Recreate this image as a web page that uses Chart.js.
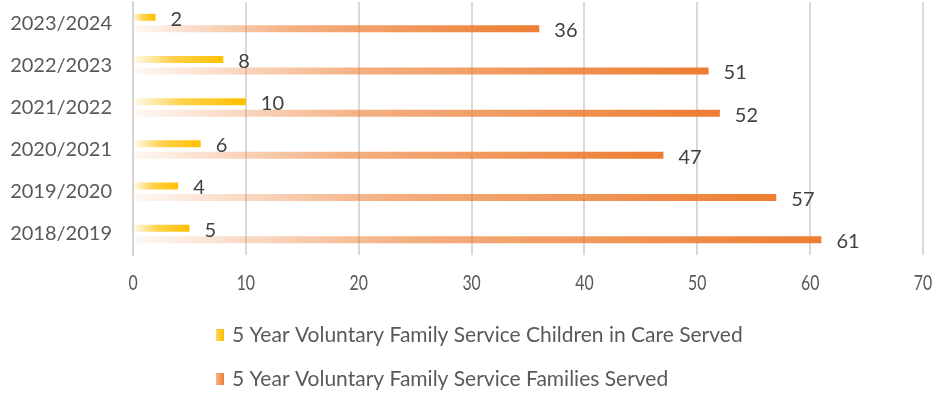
<!DOCTYPE html>
<html>
<head>
<meta charset="utf-8">
<script src="https://cdn.jsdelivr.net/npm/chart.js@4.4.1/dist/chart.umd.min.js"></script>
<style>
  html, body { margin: 0; padding: 0; background: #fff; }
  canvas { display: block; }
</style>
</head>
<body>
<canvas id="serviceChart" width="938" height="393"></canvas>
<script>
const years = ['2018/2019', '2019/2020', '2020/2021', '2021/2022', '2022/2023', '2023/2024'];
const childrenServed = [5, 4, 6, 10, 8, 2];
const familiesServed = [61, 57, 47, 52, 51, 36];
const seriesNames = [
  '5 Year Voluntary Family Service Children in Care Served',
  '5 Year Voluntary Family Service Families Served'
];
const axisMax = 70;
const axisStep = 10;

// faded-to-solid fill, one gradient per bar
const yellowStops = [[0, 'rgba(255,192,0,0.06)'], [0.45, 'rgba(255,195,20,0.78)'], [1, 'rgba(255,192,0,1)']];
const orangeStops = [[0, 'rgba(237,125,49,0.05)'], [0.4, 'rgba(237,125,49,0.62)'], [1, 'rgba(237,125,49,1)']];

function makeGradient(c, x0, x1, stops) {
  const g = c.createLinearGradient(x0, 0, x1, 0);
  stops.forEach(s => g.addColorStop(s[0], s[1]));
  return g;
}

function barFill(stops) {
  return (ctx) => {
    const chart = ctx.chart;
    if (!chart.chartArea || ctx.type !== 'data') return stops[stops.length - 1][1];
    const xs = chart.scales.x;
    const x0 = xs.getPixelForValue(0);
    const x1 = xs.getPixelForValue(ctx.dataset.data[ctx.dataIndex]);
    return makeGradient(chart.ctx, x0, x1, stops);
  };
}

const labelFont = '20px Lato';
const textGrey = '#595959';

// value labels just past the end of each bar
const valueLabels = {
  id: 'valueLabels',
  afterDatasetsDraw(chart) {
    const c = chart.ctx;
    c.save();
    c.font = labelFont;
    c.fillStyle = '#404040';
    c.textBaseline = 'middle';
    c.textAlign = 'left';
    chart.data.datasets.forEach((ds, i) => {
      chart.getDatasetMeta(i).data.forEach((bar, j) => {
        c.fillText(String(ds.data[j]), bar.x + 15, bar.y + 2);
      });
    });
    c.restore();
  }
};

// x tick labels in a squeezed face (no condensed font installed)
const narrowTicks = {
  id: 'narrowTicks',
  afterDraw(chart) {
    const xs = chart.scales.x;
    const c = chart.ctx;
    const squeeze = 0.72;
    const y = chart.chartArea.bottom + 28;
    c.save();
    c.font = '22px Lato';
    c.fillStyle = textGrey;
    c.textBaseline = 'middle';
    c.textAlign = 'center';
    c.scale(squeeze, 1);
    xs.ticks.forEach((t, i) => {
      c.fillText(String(t.value), xs.getPixelForTick(i) / squeeze, y);
    });
    c.restore();
  }
};

// two-row legend, rows share the same left edge
const stackedLegend = {
  id: 'stackedLegend',
  afterDraw(chart) {
    const c = chart.ctx;
    const stops = [yellowStops, orangeStops];
    const left = 216;
    const firstRow = chart.chartArea.bottom + 80;
    c.save();
    c.font = '21px Lato';
    c.textBaseline = 'middle';
    c.textAlign = 'left';
    chart.data.datasets.forEach((ds, i) => {
      const y = firstRow + i * 44;
      c.fillStyle = makeGradient(c, left - 4, left + 8, stops[i]);
      c.fillRect(left, y - 6, 8, 12);
      c.fillStyle = textGrey;
      c.fillText(ds.label, left + 16, y);
    });
    c.restore();
  }
};

new Chart(document.getElementById('serviceChart'), {
  type: 'bar',
  data: {
    labels: years,
    datasets: [
      {
        label: seriesNames[0],
        data: childrenServed,
        backgroundColor: barFill(yellowStops),
        borderWidth: 0,
        categoryPercentage: 0.546,
        barPercentage: 0.61
      },
      {
        label: seriesNames[1],
        data: familiesServed,
        backgroundColor: barFill(orangeStops),
        borderWidth: 0,
        categoryPercentage: 0.546,
        barPercentage: 0.61
      }
    ]
  },
  options: {
    indexAxis: 'y',
    responsive: false,
    animation: false,
    devicePixelRatio: 1,
    layout: { padding: { top: 2, right: 15, left: 0, bottom: 0 } },
    plugins: {
      legend: { display: false },
      tooltip: { enabled: false }
    },
    scales: {
      x: {
        min: 0,
        max: axisMax,
        afterFit: (scale) => { scale.height = 138; },
        grid: { color: '#d9d9d9', lineWidth: 2, drawTicks: false },
        border: { display: false },
        ticks: { stepSize: axisStep, display: false }
      },
      y: {
        reverse: true,
        afterFit: (scale) => {
          scale.width = 133;
          scale.paddingTop = 0;
          scale.paddingBottom = 0;
        },
        grid: { display: false, drawTicks: false },
        border: { display: true, color: '#d4d4d4', width: 2 },
        ticks: {
          padding: 21,
          color: textGrey,
          font: { family: 'Lato', size: 20 }
        }
      }
    }
  },
  plugins: [valueLabels, narrowTicks, stackedLegend]
});
</script>
</body>
</html>
